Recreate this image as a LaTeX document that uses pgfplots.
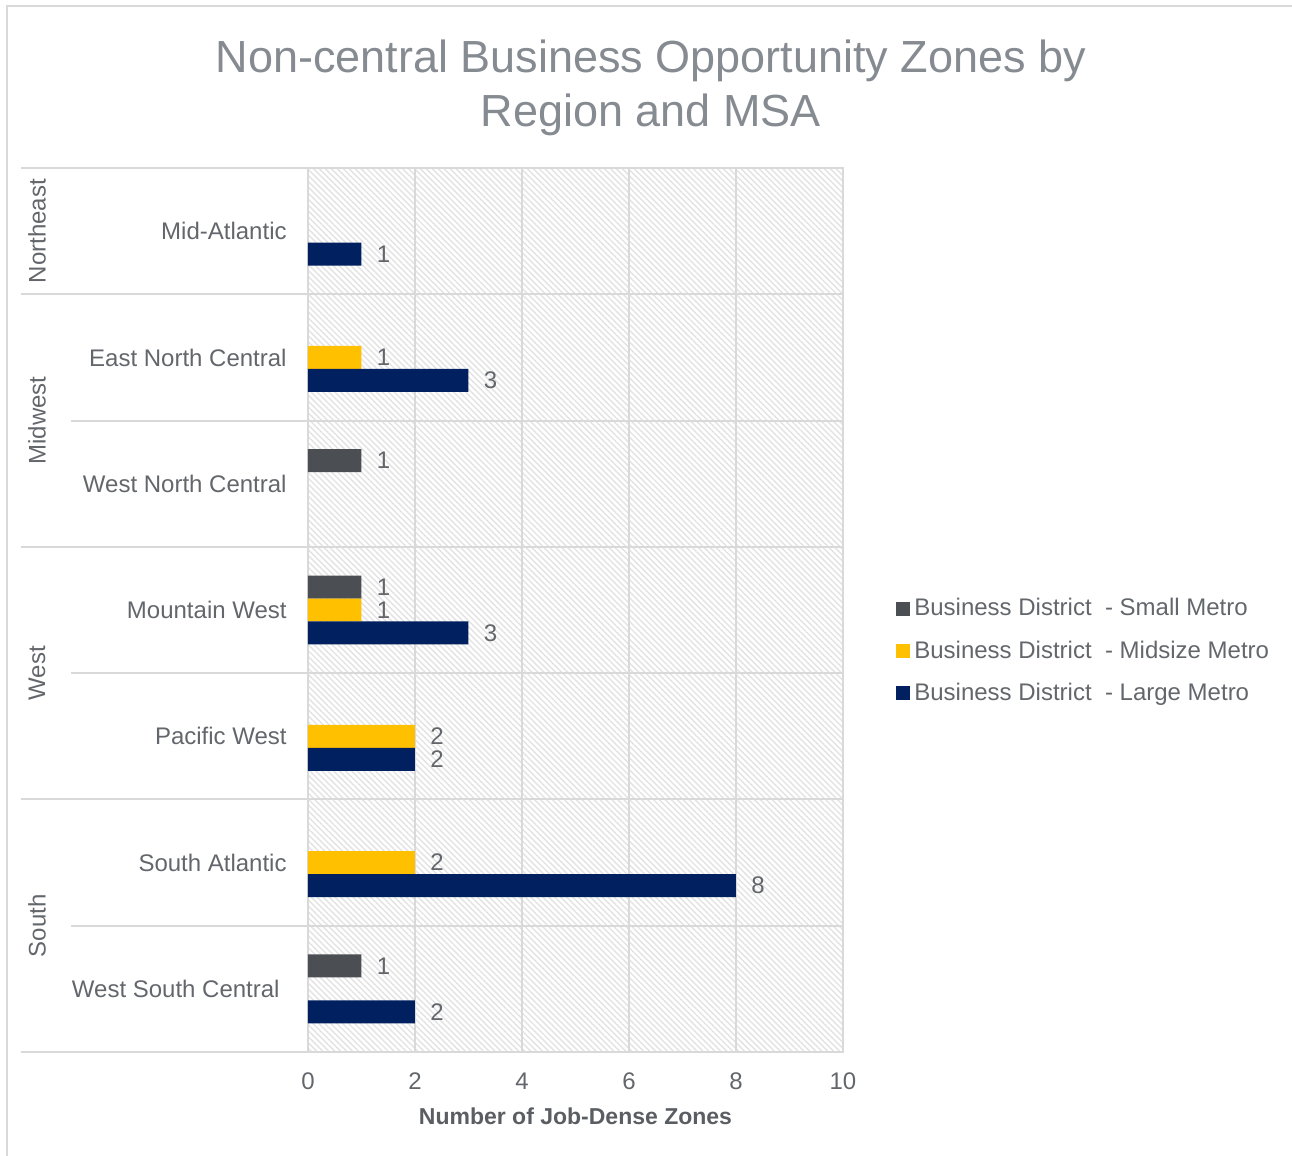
\documentclass[border=0pt]{standalone}
\usepackage{pgfplots}
\pgfplotsset{compat=1.18}
\usepackage{fontspec}
\setmainfont{Liberation Sans}
\usetikzlibrary{patterns.meta}
\definecolor{csmall}{HTML}{4B4F54}
\definecolor{cmid}{HTML}{FFC000}
\definecolor{clarge}{HTML}{002060}
\definecolor{txt}{HTML}{63676C}
\definecolor{ttl}{HTML}{858B91}
\definecolor{lbl}{HTML}{5A5E63}
\definecolor{grd}{HTML}{D9D9D9}
\pgfplotsset{/pgf/number format/assume math mode=true}
\begin{document}
\begin{tikzpicture}
\begin{axis}[
  at={(0pt,0pt)}, anchor=south west,
  scale only axis, width=267.5pt, height=442pt,
  xmin=0, xmax=10, ymin=-0.5, ymax=6.5, y dir=reverse,
  xtick={0,2,4,6,8,10},
  ytick={0,1,2,3,4,5,6},
  yticklabels={Mid-Atlantic, East North Central, West North Central, Mountain West, Pacific West, South Atlantic, {West South Central\hspace*{3.5pt}}},
  major tick length=0pt,
  tick label style={font=\fontsize{12}{14}\selectfont, text=txt, inner sep=0pt},
  y tick label style={anchor=east, xshift=-10.5pt},
  x tick label style={anchor=north, yshift=-10.2pt},
  xmajorgrids, major grid style={color=grd, line width=1pt},
  axis line style={color=grd, line width=1pt},
  axis background/.style={fill=white, postaction={pattern={Lines[angle=-45,distance=2.1pt,line width=0.7pt]}, pattern color=black!11}},
  xlabel={Number of Job-Dense Zones},
  xlabel style={at={(axis description cs:0.5,-0.0724)}, anchor=center, font=\bfseries\fontsize{11.5}{13}\selectfont, text=lbl},
  clip=false,
  xbar, bar width=0.182,
  nodes near coords,
  nodes near coords style={anchor=west, inner sep=0pt, xshift=7.5pt, font=\fontsize{12}{14}\selectfont, text=txt},
  legend style={at={(1.0990,0.4536)}, anchor=west, draw=none, fill=none, inner sep=0pt,
    font=\fontsize{12}{14}\selectfont, text=txt, row sep=7pt,
    nodes={inner sep=2pt}},
  legend cell align=left,
  legend image code/.code={\fill[#1,draw=none] (0pt,-3.5pt) rectangle (7pt,3.5pt);},
]
\addplot[fill=csmall, draw=none, bar shift=-0.182] coordinates {(1,2) (1,3) (1,6)};
\addplot[fill=cmid, draw=none, bar shift=0] coordinates {(1,1) (1,3) (2,4) (2,5)};
\addplot[fill=clarge, draw=none, bar shift=0.182] coordinates {(1,0) (3,1) (3,3) (2,4) (8,5) (2,6)};
\legend{Business District\ \ - Small Metro, Business District\ \ - Midsize Metro, Business District\ \ - Large Metro}
% separators
\pgfplotsinvokeforeach{-0.5,0.5,2.5,4.5,6.5}{
  \draw[grd, line width=1pt] ([xshift=-143.5pt]axis cs:0,#1) -- (axis cs:10,#1);
}
\pgfplotsinvokeforeach{1.5,3.5,5.5}{
  \draw[grd, line width=1pt] ([xshift=-118.5pt]axis cs:0,#1) -- (axis cs:10,#1);
}
% group labels
\node[rotate=90, anchor=center, font=\fontsize{12}{14}\selectfont, text=txt] at ([xshift=-135.5pt]axis cs:0,0) {Northeast};
\node[rotate=90, anchor=center, font=\fontsize{12}{14}\selectfont, text=txt] at ([xshift=-135.5pt]axis cs:0,1.5) {Midwest};
\node[rotate=90, anchor=center, font=\fontsize{12}{14}\selectfont, text=txt] at ([xshift=-135.5pt]axis cs:0,3.5) {West};
\node[rotate=90, anchor=center, font=\fontsize{12}{14}\selectfont, text=txt] at ([xshift=-135.5pt]axis cs:0,5.5) {South};
\end{axis}
% title
\node[anchor=base, font=\fontsize{22.5}{26}\selectfont, text=ttl] at (171.5pt,489.5pt) {Non-central Business Opportunity Zones by};
\node[anchor=base, font=\fontsize{22.5}{26}\selectfont, text=ttl] at (171.5pt,462.5pt) {Region and MSA};
% outer frame
\draw[grd, line width=1pt] (-150.5pt,-80pt) -- (-150.5pt,523pt) -- (520pt,523pt);
\pgfresetboundingbox
\useasboundingbox (-154pt,-52pt) rectangle (492pt,526pt);
\end{tikzpicture}
\end{document}
